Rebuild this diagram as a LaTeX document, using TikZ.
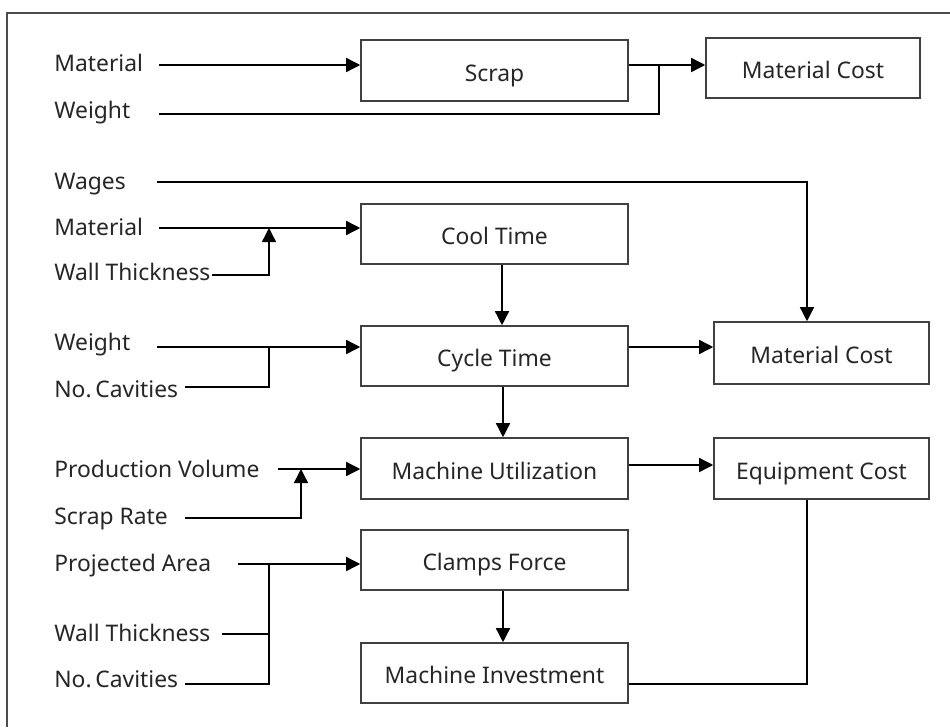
\documentclass[tikz,border=0pt]{standalone}
\usepackage{fontspec}
\setmainfont{Noto Sans}
\usetikzlibrary{arrows.meta,calc}
\begin{document}
\begin{tikzpicture}[x=0.02cm,y=-0.02cm,
    box/.style={draw=black!75,line width=0.9pt,minimum width=5.34cm,minimum height=1.2cm,inner sep=0pt,text height=12pt,text depth=0pt},
    costbox/.style={box,minimum width=4.3cm},
    lbl/.style={anchor=base west,inner sep=0pt},
    link/.style={line width=0.8pt},
    tip/.style={link,-{Triangle[length=8pt,width=8pt]}},
    every node/.style={font=\fontsize{13}{15}\selectfont,text=black!85}]
        \useasboundingbox (0,0) rectangle (950,727);
        % frame
        \draw[black!70,line width=1.1pt] (950,13) -- (7,13) -- (7,727);
        % boxes
        \node[box,minimum height=1.22cm] (scrap) at (494.5,70.5) {Scrap};
        \node[costbox,minimum width=4.28cm] (mcost) at (813,68) {Material Cost};
        \node[box] (cool) at (494.5,234) {Cool Time};
        \node[box] (cycle) at (494.5,356) {Cycle Time};
        \node[costbox,minimum height=1.24cm] (mcost2) at (821.5,353) {Material Cost};
        \node[box,minimum height=1.22cm] (util) at (494.5,468.5) {Machine Utilization};
        \node[costbox,minimum height=1.22cm] (equip) at (821.5,468.5) {Equipment Cost};
        \node[box] (clamp) at (494.5,560) {Clamps Force};
        \node[box] (invest) at (494.5,673) {Machine Investment};
        % input labels
        \node[lbl] (mat1) at (54,71) {Material};
        \node[lbl] (wgt1) at (54,118) {Weight};
        \node[lbl] (wage) at (54,189) {Wages};
        \node[lbl] (mat2) at (54,235) {Material};
        \node[lbl] (wall1) at (54,280) {Wall Thickness};
        \node[lbl] (wgt2) at (54,350) {Weight};
        \node[lbl] (cav1) at (54,397) {No.\,Cavities};
        \node[lbl] (vol) at (54,477) {Production Volume};
        \node[lbl] (rate) at (54,524) {Scrap Rate};
        \node[lbl] (area) at (54,571) {Projected Area};
        \node[lbl] (wall2) at (54,641) {Wall Thickness};
        \node[lbl] (cav2) at (54,687) {No.\,Cavities};
        % line starts and joints
        \coordinate (s1) at (159,65);
        \coordinate (s2) at (159,114);
        \coordinate (s3) at (157,182);
        \coordinate (s4) at (159,228);
        \coordinate (s5) at (212,275);
        \coordinate (s6) at (157,347);
        \coordinate (s7) at (185,387);
        \coordinate (s8) at (278,469);
        \coordinate (s9) at (185,518);
        \coordinate (s10) at (238,564);
        \coordinate (s11) at (222,634);
        \coordinate (s12) at (185,684);
        \coordinate (j1) at (659,65);
        \coordinate (j2) at (269,228);
        \coordinate (j3) at (269,347);
        \coordinate (j4) at (301,469);
        \coordinate (j5) at (269,564);
        % scrap row
        \draw[tip] (s1) -- (s1 -| scrap.west);
        \draw[tip] (s1 -| scrap.east) -- (s1 -| mcost.west);
        \draw[link] (s2) -| (j1);
        % cool time and cycle time
        \draw[tip] (s3) -| ($(mcost2.north)+(-14.5,0)$);
        \draw[tip] (s4) -- (s4 -| cool.west);
        \draw[tip] (s5) -| (j2);
        \draw[tip] ($(cool.south)+(7.5,0)$) -- ($(cycle.north)+(7.5,0)$);
        \draw[tip] (s6) -- (s6 -| cycle.west);
        \draw[link] (s7) -| (j3);
        \draw[tip] (s6 -| cycle.east) -- (s6 -| mcost2.west);
        \draw[tip] ($(cycle.south)+(8.5,0)$) -- ($(util.north)+(8.5,0)$);
        % utilization
        \draw[tip] (s8) -- (s8 -| util.west);
        \draw[tip] (s9) -| (j4);
        \draw[tip] ($(util.east)+(0,-3.5)$) -- ($(equip.west)+(0,-3.5)$);
        % clamps force and investment
        \draw[tip] (s10) -- (s10 -| clamp.west);
        \draw[link] (s11) -- (s11 -| j5);
        \draw[link] (s12) -| (j5);
        \draw[tip] ($(clamp.south)+(8.5,0)$) -- ($(invest.north)+(8.5,0)$);
        \draw[link] ($(equip.south)+(-14.5,0)$) |- (s12 -| invest.east);
    \end{tikzpicture}
\end{document}
